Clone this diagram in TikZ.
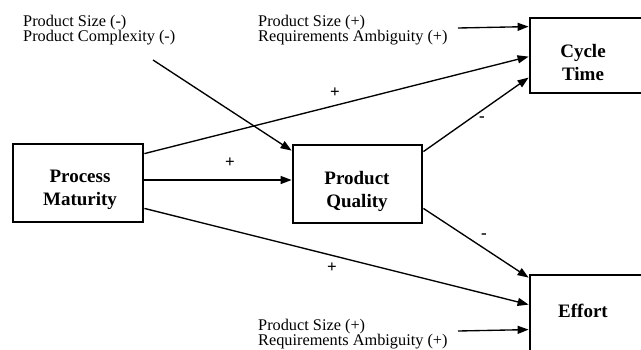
\documentclass[tikz,border=0pt]{standalone}
\usepackage{fontspec}
\setmainfont{Liberation Serif}
\usetikzlibrary{arrows.meta,calc}
\tikzset{
  box/.style={draw, line width=2.8pt, inner sep=0pt},
  boxtext/.style={font=\fontsize{19}{23}\selectfont\bfseries, align=center, inner sep=0pt},
  note/.style={font=\fontsize{16.3}{15}\selectfont, align=left, inner sep=0pt, anchor=north west},
  sign/.style={font=\fontsize{17}{17}\selectfont\bfseries, inner sep=0pt},
  conn/.style={line width=1.35pt, -{Triangle[length=11pt,width=8pt]}}
}
\begin{document}
\begin{tikzpicture}[x=1pt,y=-1pt]
\useasboundingbox (0,0) rectangle (641,349);
\clip (0,0) rectangle (641,349);
% boxes
\node[box, minimum width=130pt, minimum height=78pt] (pm) at (78,183) {};
\node[boxtext] (pmt) at (80,190) {Process\\Maturity};
\node[box, minimum width=129pt, minimum height=78pt] (pq) at (357.5,184) {};
\node[boxtext] (pqt) at (357,191) {Product\\Quality};
\node[box, minimum width=130pt, minimum height=75pt] (ct) at (595,55.5) {};
\node[boxtext] (ctt) at (583,62) {Cycle\\Time};
\node[box, minimum width=130pt, minimum height=100pt] (ef) at (595,325) {};
\node[boxtext] (eft) at (583,311) {Effort};
% notes
\node[note] (n1) at (23,15) {Product Size (-)\\Product Complexity (-)};
\node[note] (n2) at (258,15) {Product Size (+)\\Requirements Ambiguity (+)};
\node[note] (n3) at (258,319) {Product Size (+)\\Requirements Ambiguity (+)};
\coordinate (s1) at (153,60);
\coordinate (s2) at (458,28);
\coordinate (s3) at (458,331);
% connectors
\draw[conn] (s1) -- ([yshift=-7pt]pq.north west);
\draw[conn] ([yshift=-11pt]pm.north east) -- ([yshift=-40pt]ct.north west);
\draw[conn] (s2) -- ([yshift=-10pt]ct.north west);
\draw[conn] ([yshift=-8pt]pq.north east) -- ([yshift=-61pt]ct.north west);
\draw[conn] ([yshift=3pt]pm.east) -- ([yshift=3pt]pm.east -| pq.west);
\draw[conn] ([yshift=16pt]pq.south east) -- ([yshift=-4pt]ef.north west);
\draw[conn] ([yshift=15pt]pm.south east) -- ([yshift=-31pt]ef.north west);
\draw[conn] (s3) -- ([yshift=-56pt]ef.north west);
% signs
\node[sign] (l1) at (335,93) {+};
\node[sign] (l2) at (230,163) {+};
\node[sign] (l3) at (482,119) {-};
\node[sign] (l4) at (484,236) {-};
\node[sign] (l5) at (332,268) {+};
\end{tikzpicture}
\end{document}
